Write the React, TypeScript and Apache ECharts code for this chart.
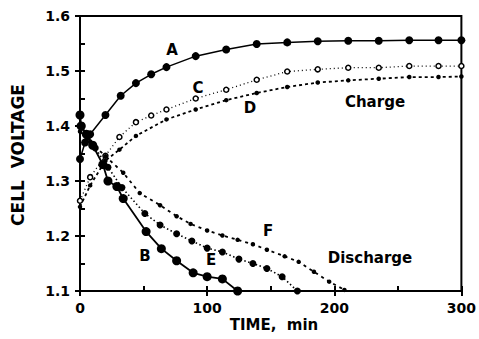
import React, { useEffect, useRef } from "react";
import * as echarts from "echarts";

// Charge curves
const curveA: number[][] = [
  [0, 1.34], [4, 1.37], [8, 1.385], [20, 1.42], [32, 1.455], [44, 1.478], [56, 1.494],
  [68, 1.507], [91, 1.527], [115, 1.539], [139, 1.549], [163, 1.552], [187, 1.554],
  [211, 1.555], [235, 1.555], [259, 1.556], [282, 1.556], [300, 1.556],
];
const curveC: number[][] = [
  [0, 1.264], [8, 1.307], [20, 1.346], [31, 1.38], [44, 1.407], [56, 1.419], [68, 1.43],
  [91, 1.45], [115, 1.466], [139, 1.484], [163, 1.499], [187, 1.503], [211, 1.506],
  [235, 1.506], [259, 1.509], [282, 1.509], [300, 1.509],
];
const curveD: number[][] = [
  [0, 1.253], [8, 1.292], [20, 1.337], [31, 1.357], [44, 1.382], [68, 1.412], [91, 1.43],
  [115, 1.447], [139, 1.46], [163, 1.471], [187, 1.479], [211, 1.483], [235, 1.486],
  [259, 1.489], [282, 1.489], [300, 1.49],
];
// Discharge curves
const curveB: number[][] = [
  [0, 1.42], [1, 1.40], [5, 1.385], [10, 1.365], [18, 1.33], [22, 1.30], [29, 1.29],
  [34, 1.268], [52, 1.208], [64, 1.177], [76, 1.155], [89, 1.133], [100, 1.126],
  [112, 1.122], [124, 1.10],
];
const curveE: number[][] = [
  [0, 1.40], [6, 1.38], [12, 1.36], [22, 1.325], [33, 1.288], [51, 1.241], [63, 1.22],
  [76, 1.204], [88, 1.191], [100, 1.178], [112, 1.171], [125, 1.158], [136, 1.15],
  [147, 1.141], [159, 1.126], [171, 1.10],
];
const curveF: number[][] = [
  [0, 1.39], [8, 1.372], [20, 1.345], [34, 1.315], [47, 1.278], [63, 1.256], [76, 1.236],
  [87, 1.222], [100, 1.21], [112, 1.201], [124, 1.193], [136, 1.185], [147, 1.175],
  [161, 1.163], [172, 1.153], [184, 1.135], [196, 1.117], [208, 1.102],
];

const xTicks = [0, 100, 200, 300];
const yTicks = [1.1, 1.2, 1.3, 1.4, 1.5, 1.6];

const FONT = "DejaVu Sans";

export default function App() {
  const ref = useRef<HTMLDivElement>(null);
  useEffect(() => {
    if (!ref.current) return;
    const chart = echarts.init(ref.current, undefined, { renderer: "svg" });
    const lineSeries = (
      name: string,
      data: number[][],
      symbol: string,
      size: number,
      lineType: any,
      lineWidth: number,
      hollow = false
    ) => ({
      name,
      type: "line",
      data,
      symbol,
      symbolSize: size,
      showSymbol: true,
      clip: false,
      lineStyle: { color: "#000", width: lineWidth, type: lineType },
      itemStyle: hollow
        ? { color: "#fff", borderColor: "#000", borderWidth: 1.5 }
        : { color: "#000", borderColor: "#000", borderWidth: 0 },
      z: 3,
    });
    chart.setOption({
      animation: false,
      backgroundColor: "#fff",
      grid: {
        left: 80,
        right: 16,
        top: 16,
        bottom: 48,
        show: true,
        borderColor: "#000",
        borderWidth: 2,
        backgroundColor: "transparent",
      },
      xAxis: [
        {
          type: "value",
          min: xTicks[0],
          max: xTicks[xTicks.length - 1],
          interval: 100,
          axisLine: { show: true, lineStyle: { color: "#000", width: 2 } },
          axisTick: { show: true, inside: false, length: 5, lineStyle: { color: "#000", width: 2 } },
          axisLabel: {
            margin: 10,
            color: "#000",
            fontFamily: FONT,
            fontWeight: "bold",
            fontSize: 14,
          },
          splitLine: { show: false },
        },
        {
          type: "value",
          min: 0,
          max: 300,
          interval: 50,
          position: "bottom",
          axisLine: { show: false },
          axisTick: { show: true, inside: true, length: 5, lineStyle: { color: "#000", width: 2 } },
          axisLabel: { show: false },
          splitLine: { show: false },
        },
      ],
      yAxis: [
        {
          type: "value",
          min: yTicks[0],
          max: yTicks[yTicks.length - 1],
          interval: 0.1,
          axisLine: { show: true, lineStyle: { color: "#000", width: 2 } },
          axisTick: { show: true, inside: false, length: 5, lineStyle: { color: "#000", width: 2 } },
          axisLabel: {
            margin: 10,
            color: "#000",
            fontFamily: FONT,
            fontWeight: "bold",
            fontSize: 14,
            formatter: (v: number) => v.toFixed(1),
          },
          splitLine: { show: false },
        },
        {
          type: "value",
          min: 1.1,
          max: 1.6,
          interval: 0.05,
          position: "left",
          axisLine: { show: false },
          axisTick: { show: true, inside: true, length: 5, lineStyle: { color: "#000", width: 2 } },
          axisLabel: { show: false },
          splitLine: { show: false },
        },
      ],
      series: [
        lineSeries("A", curveA, "circle", 8, "solid", 1.5),
        lineSeries("C", curveC, "circle", 5, [1, 3], 1.3, true),
        lineSeries("D", curveD, "circle", 4.5, [3, 3], 1.8),
        lineSeries("B", curveB, "circle", 9, "solid", 1.8),
        lineSeries("E", curveE, "circle", 7, [1.5, 2.5], 1.6),
        lineSeries("F", curveF, "circle", 4.5, [3, 4], 1.8),
      ],
      graphic: [
        {
          type: "text",
          x: 18,
          y: 155,
          rotation: Math.PI / 2,
          style: {
            text: "CELL  VOLTAGE",
            font: `bold 17px "${FONT}"`,
            fill: "#000",
            align: "center",
            verticalAlign: "middle",
          },
        },
        {
          type: "text",
          x: 274,
          y: 325,
          style: {
            text: "TIME,  min",
            font: `bold 15px "${FONT}"`,
            fill: "#000",
            align: "center",
            verticalAlign: "middle",
          },
        },
        ...[
          ["A", 172, 50],
          ["C", 198, 88],
          ["D", 250, 108],
          ["Charge", 375, 102],
          ["B", 145, 256],
          ["E", 211, 260],
          ["F", 268, 231],
          ["Discharge", 370, 258],
        ].map(([t, x, y]) => ({
          type: "text",
          x: x as number,
          y: y as number,
          z: 10,
          style: {
            text: t as string,
            font: `bold 15px "${FONT}"`,
            fill: "#000",
            align: "center",
            verticalAlign: "middle",
          },
        })),
      ],
    });
    return () => chart.dispose();
  }, []);
  return (
    <div
      ref={ref}
      style={{ position: "fixed", left: 0, top: 0, width: 479, height: 339, background: "#fff" }}
    />
  );
}
